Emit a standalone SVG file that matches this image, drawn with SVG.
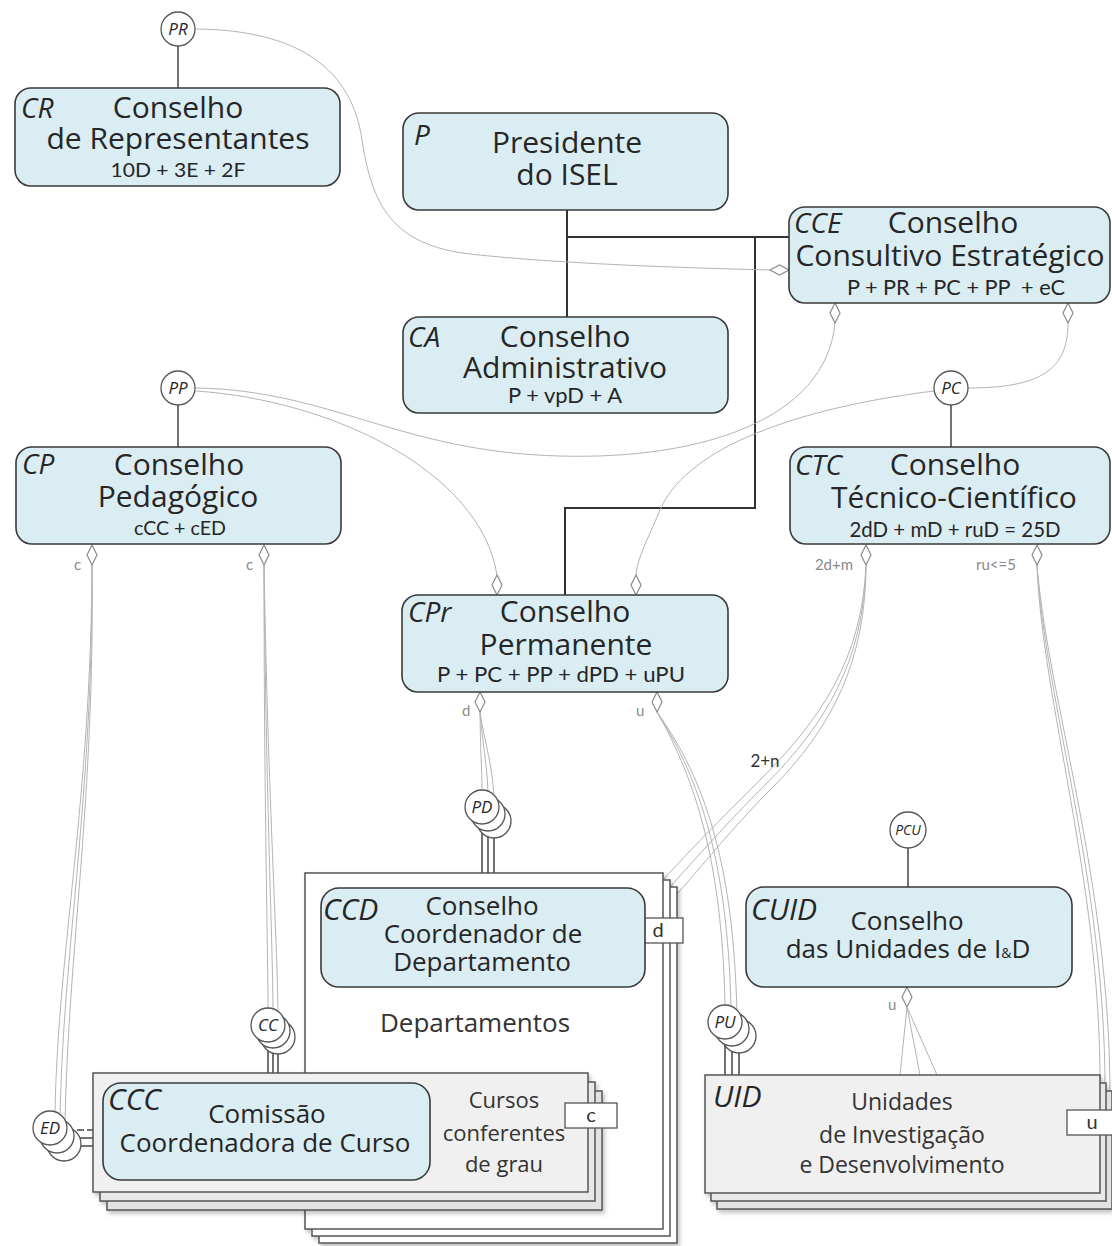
<svg xmlns="http://www.w3.org/2000/svg" width="1112" height="1246" viewBox="0 0 1112 1246">
<style>
.box{fill:#daedf3;stroke:#3a3a3a;stroke-width:1.6}
.t{font-family:"Open Sans","Noto Sans",sans-serif;fill:#262626}
.ti{font-size:30px;text-anchor:middle}
.ts{font-size:26px;text-anchor:middle}
.ab{font-style:italic;font-size:28px}
.abl{font-style:italic;font-size:30px}
.f{font-family:Lato,"Open Sans",sans-serif;font-size:21px;text-anchor:middle;fill:#262626}
.conn{fill:none;stroke:#b4b4b4;stroke-width:1}
.solid{fill:none;stroke:#333;stroke-width:2}
.link{fill:none;stroke:#444;stroke-width:1.5}
.dia{fill:#fff;stroke:#8a8a8a;stroke-width:1.2}
.circ{fill:#fff;stroke:#555;stroke-width:1.3}
.ct{font-family:"Open Sans",sans-serif;font-style:italic;font-size:17px;text-anchor:middle;fill:#262626}
.lbl{font-family:Lato,"Open Sans",sans-serif;font-size:15px;fill:#8a8a8a}
.stk{stroke:#555;stroke-width:1.5}
.tag{fill:#fff;stroke:#555;stroke-width:1.3}
.tagt{font-family:Lato,"Open Sans",sans-serif;font-size:20px;text-anchor:middle;fill:#333}
</style>
<defs>
<path id="dv" d="M0,0 L5,10 L0,20 L-5,10 Z" class="dia"/>
<filter id="sh" x="-5%" y="-5%" width="115%" height="115%">
<feDropShadow dx="2" dy="3" stdDeviation="2" flood-color="#000" flood-opacity="0.25"/>
</filter>
</defs>
<rect width="1112" height="1246" fill="#fff"/>

<g id="connectors">
<!-- structural solid lines -->
<path class="solid" d="M567,210 L567,317 M567,237 L789,237 M755,237 L755,508 L565,508 L565,595"/>
<path class="link" d="M178,46 L178,88 M178,405 L178,447 M951,405 L951,447 M908,848 L908,887"/>
<!-- membership curves -->
<path class="conn" d="M196,29 C300,30 352,70 362,140 C372,205 392,245 470,254 C560,264 690,268 770,270"/>
<path class="dia" d="M770,270 L779.5,265 L789,270 L779.5,275 Z"/>
<path class="conn" d="M196,388 C330,390 400,452 560,456 C700,460 826,420 835,323"/>
<use href="#dv" x="835" y="303"/>
<path class="conn" d="M968,388 C1040,388 1068,370 1068,323"/>
<use href="#dv" x="1068" y="303"/>
<path class="conn" d="M196,391 C330,400 480,470 497,575"/>
<use href="#dv" x="497" y="575"/>
<path class="conn" d="M934,391 C820,405 690,440 660,510 C645,545 637,560 636,575"/>
<use href="#dv" x="636" y="575"/>
<!-- CP to ED -->
<use href="#dv" x="92" y="545"/>
<path class="conn" d="M92,565 C91,800 58,950 55,1112 M92,565 C93,800 63,950 60,1118 M92,565 C95,800 68,950 65,1126"/>
<text class="lbl" x="74" y="570">c</text>
<!-- CP to CC -->
<use href="#dv" x="264" y="545"/>
<path class="conn" d="M264,565 C264,800 268,950 268,1008 M264,565 C266,800 273,950 273,1014 M264,565 C268,800 278,950 278,1020"/>
<text class="lbl" x="246" y="570">c</text>
<!-- CPr to PD -->
<use href="#dv" x="480" y="692"/>
<path class="conn" d="M480,712 C480,740 482,770 482,790 M480,712 C482,740 488,770 488,796 M480,712 C484,740 494,770 494,802"/>
<text class="lbl" x="462" y="716">d</text>
<!-- CPr to PU -->
<use href="#dv" x="657" y="692"/>
<path class="conn" d="M657,712 C690,770 722,850 725,1005 M657,712 C694,770 728,850 731,1011 M657,712 C698,770 734,850 737,1017"/>
<text class="lbl" x="636" y="716">u</text>
<!-- CTC to Departamentos -->
<use href="#dv" x="866" y="545"/>
<path class="conn" d="M866,565 C862,660 820,720 760,780 C720,820 690,850 663,880 M866,565 C864,660 826,724 766,784 C726,824 697,857 670,887 M866,565 C866,660 832,728 772,788 C732,828 704,864 677,894"/>
<text class="lbl" x="834" y="570" text-anchor="middle">2d+m</text>
<text x="765" y="767" text-anchor="middle" style="font-family:Lato,'Open Sans',sans-serif;font-size:17px;fill:#333">2+n</text>
<!-- CTC to UID -->
<use href="#dv" x="1037" y="545"/>
<path class="conn" d="M1037,565 C1042,700 1100,880 1100,1080 M1037,565 C1045,700 1105,880 1105,1088 M1037,565 C1048,700 1110,880 1110,1096"/>
<text class="lbl" x="996" y="570" text-anchor="middle">ru&lt;=5</text>
<!-- CUID to UID -->
<use href="#dv" x="907" y="987"/>
<path class="conn" d="M907,1007 L900,1075 M907,1007 L920,1075 M907,1007 L937,1075"/>
<text class="lbl" x="888" y="1010">u</text>
<!-- stacked circle links -->
<path class="link" d="M482,824 L482,888 M488,830 L488,880 M494,836 L494,887"/>
<path class="link" d="M268,1042 L268,1083 M273,1048 L273,1082 M278,1054 L278,1089"/>
<path class="link" d="M725,1039 L725,1075 M732,1046 L732,1083 M739,1053 L739,1091"/>
<path class="link" d="M67,1130 L103,1130" stroke-dasharray="7,3"/>
<path class="link" d="M74,1138 L93,1138 M81,1146 L93,1146"/>
</g>

<g id="Departamentos" filter="url(#sh)">
<rect class="stk" x="319" y="887" width="358" height="356" fill="#fff"/>
<rect class="stk" x="312" y="880" width="358" height="356" fill="#fff"/>
<rect class="stk" x="305" y="873" width="358" height="356" fill="#fff"/>
</g>
<g id="DepartamentosLabel">
<text class="t ts" x="475" y="1032" style="fill:#333">Departamentos</text>
<rect class="tag" x="633" y="918" width="50" height="25"/>
<text class="tagt" x="658" y="937">d</text>
</g>

<g id="CCC_stack" filter="url(#sh)">
<rect class="stk" x="107" y="1091" width="495" height="119" fill="#e2e2e2"/>
<rect class="stk" x="100" y="1082" width="495" height="119" fill="#e8e8e8"/>
<rect class="stk" x="93" y="1073" width="495" height="119" fill="#f0f0f0"/>
</g>
<g id="Cursos">
<text class="t" x="504" y="1108" style="font-size:22px;text-anchor:middle;fill:#333">Cursos</text>
<text class="t" x="504" y="1141" style="font-size:22px;text-anchor:middle;fill:#333">conferentes</text>
<text class="t" x="504" y="1172" style="font-size:22px;text-anchor:middle;fill:#333">de grau</text>
<rect class="tag" x="565" y="1103" width="52" height="25"/>
<text class="tagt" x="591" y="1122">c</text>
</g>

<g id="UID" >
<g filter="url(#sh)">
<rect class="stk" x="717" y="1091" width="395" height="118" fill="#e2e2e2"/>
<rect class="stk" x="711" y="1083" width="395" height="118" fill="#e8e8e8"/>
<rect class="stk" x="705" y="1075" width="395" height="118" fill="#f0f0f0"/>
</g>
<text class="t abl" x="713" y="1107">UID</text>
<text class="t" x="902" y="1110" style="font-size:23px;text-anchor:middle;fill:#333">Unidades</text>
<text class="t" x="902" y="1143" style="font-size:23px;text-anchor:middle;fill:#333">de Investigação</text>
<text class="t" x="902" y="1173" style="font-size:23px;text-anchor:middle;fill:#333">e Desenvolvimento</text>
<rect class="tag" x="1067" y="1110" width="50" height="25"/>
<text class="tagt" x="1092" y="1129">u</text>
</g>

<g id="CR">
<rect class="box" x="15" y="88" width="325" height="98" rx="16"/>
<text class="t ab" x="21" y="118">CR</text>
<text class="t ti" x="178" y="118">Conselho</text>
<text class="t ti" x="178" y="149">de Representantes</text>
<text class="f" x="178" y="177" textLength="135" lengthAdjust="spacingAndGlyphs" style="font-size:19px">10D + 3E + 2F</text>
</g>

<g id="P">
<rect class="box" x="403" y="113" width="325" height="97" rx="16"/>
<text class="t ab" x="414" y="145">P</text>
<text class="t ti" x="567" y="153">Presidente</text>
<text class="t ti" x="567" y="185">do ISEL</text>
</g>

<g id="CCE">
<rect class="box" x="789" y="207" width="321" height="96" rx="16"/>
<text class="t ab" x="794" y="233">CCE</text>
<text class="t ti" x="953" y="233">Conselho</text>
<text class="t ti" x="950" y="266">Consultivo Estratégico</text>
<text class="f" x="956" y="295" textLength="218" lengthAdjust="spacingAndGlyphs" xml:space="preserve">P + PR + PC + PP  + eC</text>
</g>

<g id="CA">
<rect class="box" x="403" y="317" width="325" height="96" rx="16"/>
<text class="t ab" x="408" y="347">CA</text>
<text class="t ti" x="565" y="347">Conselho</text>
<text class="t ti" x="565" y="378">Administrativo</text>
<text class="f" x="565" y="403" textLength="114" lengthAdjust="spacingAndGlyphs">P + vpD + A</text>
</g>

<g id="CP">
<rect class="box" x="16" y="447" width="325" height="97" rx="16"/>
<text class="t ab" x="22" y="474">CP</text>
<text class="t ti" x="179" y="475">Conselho</text>
<text class="t ti" x="178" y="507">Pedagógico</text>
<text class="f" x="180" y="535" textLength="92" lengthAdjust="spacingAndGlyphs" style="font-size:19px">cCC + cED</text>
</g>

<g id="CTC">
<rect class="box" x="790" y="447" width="320" height="97" rx="16"/>
<text class="t ab" x="795" y="475">CTC</text>
<text class="t ti" x="955" y="475">Conselho</text>
<text class="t ti" x="954" y="508">Técnico-Científico</text>
<text class="f" x="955" y="537" textLength="211" lengthAdjust="spacingAndGlyphs">2dD + mD + ruD = 25D</text>
</g>

<g id="CPr">
<rect class="box" x="402" y="595" width="326" height="97" rx="16"/>
<text class="t ab" x="408" y="622">CPr</text>
<text class="t ti" x="565" y="622">Conselho</text>
<text class="t ti" x="566" y="655">Permanente</text>
<text class="f" x="561" y="682" textLength="248" lengthAdjust="spacingAndGlyphs">P + PC + PP + dPD + uPU</text>
</g>

<g id="CCD">
<rect class="box" x="321" y="888" width="324" height="99" rx="18"/>
<text class="t abl" x="323" y="920">CCD</text>
<text class="t ts" x="482" y="915">Conselho</text>
<text class="t ts" x="483" y="943">Coordenador de</text>
<text class="t ts" x="482" y="971">Departamento</text>
</g>

<g id="CUID">
<rect class="box" x="746" y="887" width="326" height="100" rx="18"/>
<text class="t abl" x="751" y="920">CUID</text>
<text class="t ts" x="907" y="930">Conselho</text>
<text class="t ts" x="908" y="958">das Unidades de I<tspan style="font-size:14px">&amp;</tspan>D</text>
</g>

<g id="CCC">
<rect class="box" x="103" y="1083" width="327" height="97" rx="18"/>
<text class="t abl" x="108" y="1110">CCC</text>
<text class="t ts" x="267" y="1123">Comissão</text>
<text class="t ts" x="265" y="1152">Coordenadora de Curso</text>
</g>

<g id="PR"><circle class="circ" cx="178" cy="29" r="17"/><text class="ct" x="178" y="35">PR</text></g>
<g id="PP"><circle class="circ" cx="178" cy="388" r="17"/><text class="ct" x="178" y="394">PP</text></g>
<g id="PC"><circle class="circ" cx="951" cy="388" r="17"/><text class="ct" x="951" y="394">PC</text></g>
<g id="PCU"><circle class="circ" cx="908" cy="830" r="18"/><text class="ct" x="908" y="835" style="font-size:14px">PCU</text></g>
<g id="PD">
<circle class="circ" cx="494" cy="821" r="17"/>
<circle class="circ" cx="488" cy="814" r="17"/>
<circle class="circ" cx="482" cy="807" r="17"/>
<text class="ct" x="482" y="813">PD</text>
</g>
<g id="CC">
<circle class="circ" cx="278" cy="1037" r="17"/>
<circle class="circ" cx="273" cy="1031" r="17"/>
<circle class="circ" cx="268" cy="1025" r="17"/>
<text class="ct" x="268" y="1031">CC</text>
</g>
<g id="ED">
<circle class="circ" cx="64" cy="1144" r="17"/>
<circle class="circ" cx="57" cy="1136" r="17"/>
<circle class="circ" cx="50" cy="1128" r="17"/>
<text class="ct" x="50" y="1134">ED</text>
</g>
<g id="PU">
<circle class="circ" cx="739" cy="1036" r="17"/>
<circle class="circ" cx="732" cy="1029" r="17"/>
<circle class="circ" cx="725" cy="1022" r="17"/>
<text class="ct" x="725" y="1028">PU</text>
</g>
</svg>
